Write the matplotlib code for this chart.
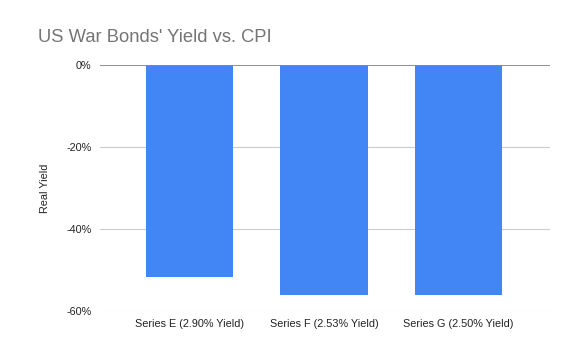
import numpy as np
import matplotlib.pyplot as plt
from matplotlib.ticker import FuncFormatter

plt.rcParams['font.family'] = ['Liberation Sans', 'DejaVu Sans']

# Real yield of each bond series vs. CPI
categories = ['Series E (2.90% Yield)', 'Series F (2.53% Yield)', 'Series G (2.50% Yield)']
real_yield = [-51.7, -56.1, -56.1]
y_ticks = [0, -20, -40, -60]

fig = plt.figure(figsize=(5.78, 3.54), dpi=100)
ax = fig.add_axes([100/578, 1 - 311/354, 450/578, 246/354])

x = np.arange(len(categories))
ax.bar(x, real_yield, width=0.647, color='#4285F4', zorder=2)

ax.set_xlim(-0.665, 2.68)
ax.set_ylim(-60, 0)
ax.set_xticks(x)
ax.set_xticklabels(categories, fontsize=7.8, color='#222222')
ax.set_yticks(y_ticks)
ax.yaxis.set_major_formatter(FuncFormatter(lambda v, p: f'{v:.0f}%'))
ax.tick_params(axis='y', labelsize=7.8, colors='#222222', length=0, pad=6)
ax.tick_params(axis='x', length=0, pad=6)

ax.grid(axis='y', color='#cccccc', linewidth=0.8, zorder=0)
ax.axhline(0, color='#888888', linewidth=1.2, zorder=3)
for s in ax.spines.values():
    s.set_visible(False)

ax.set_ylabel('Real Yield', fontsize=7.8, color='#222222', labelpad=12)
fig.text(38/578, 1 - 38/354, "US War Bonds' Yield vs. CPI", fontsize=13.2,
         color='#757575', va='center', ha='left')

fig.savefig('out.png', dpi=100)
